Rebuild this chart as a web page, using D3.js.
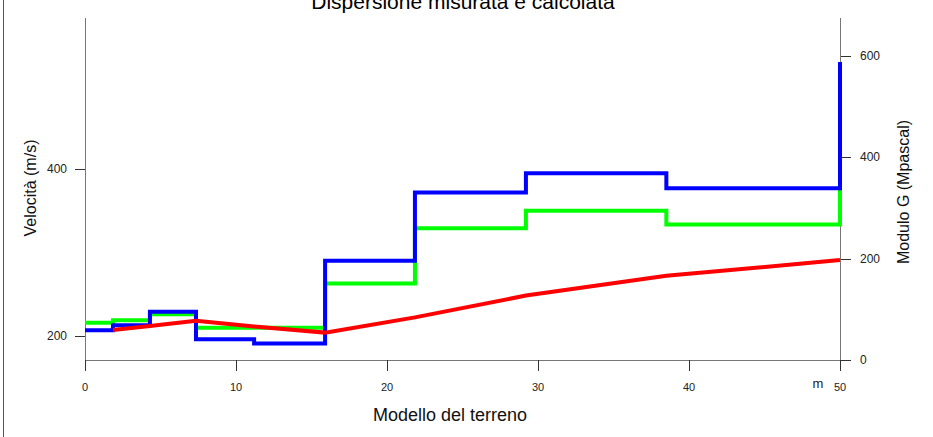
<!DOCTYPE html>
<html><head><meta charset="utf-8">
<script src="https://cdn.jsdelivr.net/npm/d3@7"></script>
<style>body{margin:0;background:#fff}svg{display:block}text{font-family:"Liberation Sans",Arial,sans-serif}</style>
</head><body>
<script>
const depths = [0, 1.85, 4.3, 7.35, 11.2, 15.9, 21.85, 29.2, 38.5, 50];
const vsMeasured = [207, 213, 229, 196, 191, 290, 372, 395, 377, 528];
const vsCalc = [216, 219, 226, 210, 210, 263, 329, 350, 333.5, 377];
const gDepths = [1.85, 4.3, 7.35, 11.2, 15.9, 21.85, 29.2, 38.5, 50];
const gModulus = [59, 67, 77.5, 66, 54, 84, 127, 166, 197];
const xTicks = [0, 10, 20, 30, 40, 50];
const yLeftTicks = [200, 400];
const yRightTicks = [0, 200, 400, 600];

const W = 933, H = 437;
const svg = d3.select("body").append("svg").attr("width", W).attr("height", H);
const x = d3.scaleLinear().domain([0, 50]).range([85, 840]);
const yL = d3.scaleLinear().domain([200, 400]).range([336, 169]);
const yR = d3.scaleLinear().domain([0, 600]).range([360, 55.7]);
const axisCol = "#777";

// frame line at left
svg.append("line").attr("x1", 3.5).attr("x2", 3.5).attr("y1", 0).attr("y2", H).attr("stroke", "#555").attr("stroke-width", 1);

// title
svg.append("text").attr("x", 463).attr("y", 9).attr("text-anchor", "middle").attr("font-size", 21).text("Dispersione misurata e calcolata");

// axes lines
const g = svg.append("g");
g.append("line").attr("x1", x(0)).attr("x2", x(50)).attr("y1", 360.5).attr("y2", 360.5).attr("stroke", axisCol);
g.append("line").attr("x1", 85.5).attr("x2", 85.5).attr("y1", 18).attr("y2", 360.5).attr("stroke", axisCol);
g.append("line").attr("x1", 840.5).attr("x2", 840.5).attr("y1", 18).attr("y2", 360.5).attr("stroke", axisCol);

// x ticks
xTicks.forEach(t => {
  g.append("line").attr("x1", Math.round(x(t)) + 0.5).attr("x2", Math.round(x(t)) + 0.5).attr("y1", 360).attr("y2", 371).attr("stroke", "#333");
  g.append("text").attr("x", x(t)).attr("y", 391).attr("text-anchor", "middle").attr("font-size", 11).attr("fill", "#222").text(t);
});
svg.append("text").attr("x", 818).attr("y", 388).attr("text-anchor", "middle").attr("font-size", 13).attr("fill", "#222").text("m");
svg.append("text").attr("x", 450).attr("y", 421).attr("text-anchor", "middle").attr("font-size", 18).attr("fill", "#111").text("Modello del terreno");

// left ticks
yLeftTicks.forEach(t => {
  g.append("line").attr("x1", 75).attr("x2", 85).attr("y1", Math.round(yL(t)) + 0.5).attr("y2", Math.round(yL(t)) + 0.5).attr("stroke", "#333");
  g.append("text").attr("x", 67).attr("y", yL(t) + 4).attr("text-anchor", "end").attr("font-size", 12).attr("fill", "#222").text(t);
});
svg.append("text").attr("transform", "translate(36,188) rotate(-90)").attr("text-anchor", "middle").attr("font-size", 16).attr("fill", "#111").text("Velocità (m/s)");

// right ticks
yRightTicks.forEach(t => {
  g.append("line").attr("x1", 841).attr("x2", 851).attr("y1", Math.round(yR(t)) + 0.5).attr("y2", Math.round(yR(t)) + 0.5).attr("stroke", "#333");
  g.append("text").attr("x", 860).attr("y", yR(t) + 4).attr("text-anchor", "start").attr("font-size", 12).attr("fill", "#222").text(t);
});
svg.append("text").attr("transform", "translate(909,192) rotate(-90)").attr("text-anchor", "middle").attr("font-size", 16).attr("fill", "#111").text("Modulo G (Mpascal)");

// lines
const stepLine = d3.line().x(d => x(d[0])).y(d => yL(d[1])).curve(d3.curveStepAfter);
svg.append("path").attr("d", stepLine(depths.map((d, i) => [d, vsCalc[i]])))
  .attr("fill", "none").attr("stroke", "#00ff00").attr("stroke-width", 4);
svg.append("path").attr("d", stepLine(depths.map((d, i) => [d, vsMeasured[i]])))
  .attr("fill", "none").attr("stroke", "#0000ff").attr("stroke-width", 4);
const gLine = d3.line().x(d => x(d[0])).y(d => yR(d[1]));
svg.append("path").attr("d", gLine(gDepths.map((d, i) => [d, gModulus[i]])))
  .attr("fill", "none").attr("stroke", "#ff0000").attr("stroke-width", 4);
</script>
</body></html>
